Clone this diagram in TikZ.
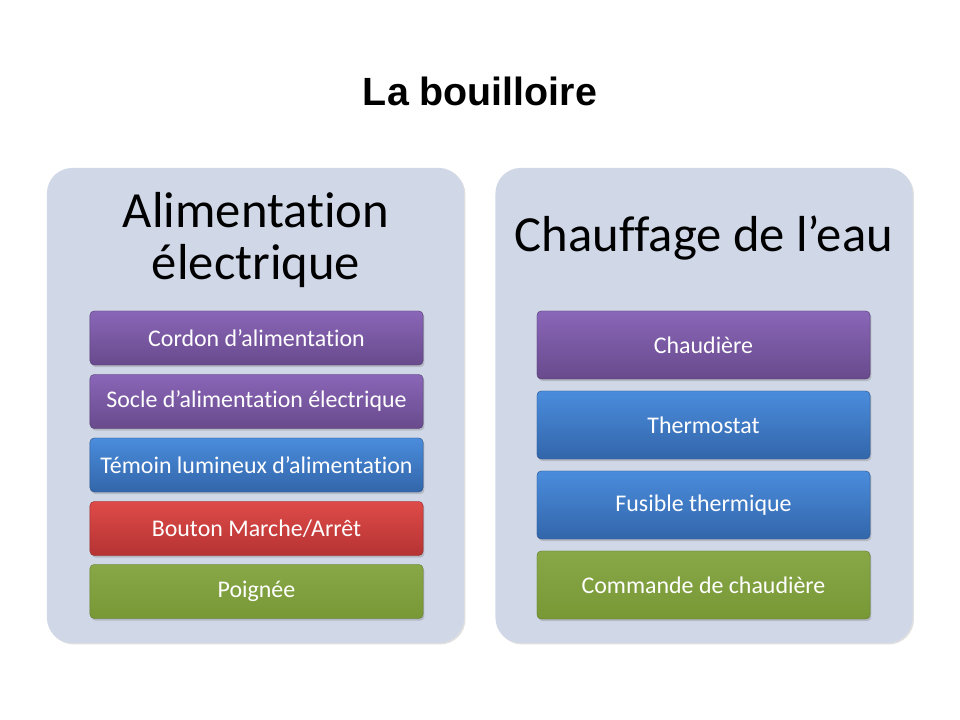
\documentclass[tikz,border=0pt]{standalone}
\usepackage{fontspec}
\setmainfont[Ligatures=NoCommon]{Carlito}
\newfontfamily\titlefont{Liberation Sans}
\usetikzlibrary{positioning,shadows}

\definecolor{panelfill}{HTML}{D0D8E8}
\definecolor{purpletop}{HTML}{8A66B8}
\definecolor{purplebot}{HTML}{684A8C}
\definecolor{bluetop}{HTML}{4A8CDC}
\definecolor{bluebot}{HTML}{3366AA}
\definecolor{redtop}{HTML}{DE4B48}
\definecolor{redbot}{HTML}{B53333}
\definecolor{greentop}{HTML}{88A848}
\definecolor{greenbot}{HTML}{789836}

\tikzset{
  panel/.style={fill=panelfill, rounded corners=18pt, minimum width=10.425cm,
    minimum height=11.875cm, drop shadow={opacity=0.25, shadow xshift=1pt, shadow yshift=-1pt}},
  item/.style={rounded corners=3pt, text=white, minimum width=8.325cm,
    font=\fontsize{17}{20}\selectfont, draw=#1bot!80!black, line width=0.3pt,
    top color=#1top, bottom color=#1bot,
    drop shadow={opacity=0.35, shadow xshift=1pt, shadow yshift=-1.5pt}},
  itemL/.style={item=#1, minimum height=1.35cm},
  itemR/.style={item=#1, minimum height=1.7cm},
  heading/.style={align=center, font=\fontsize{36}{37.5}\selectfont}
}

\begin{document}
\begin{tikzpicture}[x=0.025cm,y=-0.025cm]
  \useasboundingbox (0,0) rectangle (960,720);
  \node (title) at (480,91) {\titlefont\bfseries\fontsize{28}{32}\selectfont La bouilloire};

  % left panel
  \node[panel] (alim) at (255.5,405.5) {};
  \node[heading] (alimhead) at (256,240) {Alimentation\\électrique};
  \node[itemL=purple] (cordon) at (256.5,338) {Cordon d’alimentation};
  \node[itemL=purple] (socle) at (256.5,401.5) {Socle d’alimentation électrique};
  \node[itemL=blue] (temoin) at (256.5,465) {Témoin lumineux d’alimentation};
  \node[itemL=red] (bouton) at (256.5,528.5) {Bouton Marche/Arrêt};
  \node[itemL=green] (poignee) at (256.5,591.5) {Poignée};

  % right panel
  \node[panel] (chauf) at (704,405.5) {};
  \node[heading] (chaufhead) at (704,238) {Chauffage de l’eau};
  \node[itemR=purple] (chaudiere) at (703.5,345) {Chaudière};
  \node[itemR=blue] (thermostat) at (703.5,425) {Thermostat};
  \node[itemR=blue] (fusible) at (703.5,505) {Fusible thermique};
  \node[itemR=green] (commande) at (703.5,585) {Commande de chaudière};
\end{tikzpicture}
\end{document}
